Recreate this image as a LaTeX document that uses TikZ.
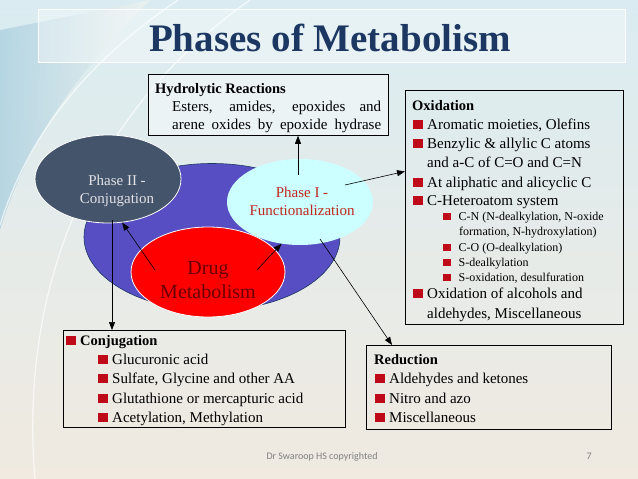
\documentclass[tikz,border=0pt]{standalone}
\usepackage{fontspec}
\setmainfont{Liberation Serif}
\newfontfamily\footfont{Carlito}
\usetikzlibrary{arrows.meta,shapes.geometric}

\definecolor{titleblue}{RGB}{28,56,98}
\definecolor{bulletred}{RGB}{190,10,25}
\definecolor{coreblue}{RGB}{88,78,196}
\definecolor{phasetwo}{RGB}{68,84,106}
\definecolor{phaseone}{RGB}{204,255,255}
\definecolor{phaseonetext}{RGB}{192,40,30}
\definecolor{drugred}{RGB}{255,0,0}
\definecolor{drugtext}{RGB}{105,0,0}
\definecolor{bgtop}{RGB}{218,236,242}
\definecolor{bgmid}{RGB}{242,244,240}
\definecolor{bgbot}{RGB}{240,234,224}

\newcommand{\bul}{\textcolor{bulletred}{\rule{9.5pt}{9.5pt}}\hspace{4.5pt}}
\newcommand{\sbul}{\textcolor{bulletred}{\rule{7.5pt}{7.5pt}}\hspace{8pt}}

\begin{document}
\begin{tikzpicture}[x=1pt,y=-1pt,>={Triangle[length=8pt,width=6pt]},
    box/.style={draw=black,line width=0.8pt,inner sep=0,anchor=north west},
    blob/.style={ellipse,inner sep=0},
    txt/.style={anchor=base west,inner sep=0,font=\fontsize{15}{18}\selectfont},
    head/.style={anchor=base west,inner sep=0,font=\fontsize{14.5}{18}\selectfont\bfseries},
    small/.style={anchor=base west,inner sep=0,font=\fontsize{12}{14}\selectfont},
    arr/.style={->,line width=0.6pt}]
  \useasboundingbox (0,0) rectangle (638,479);
  % background
  \shade[top color=bgtop,middle color=bgmid,bottom color=bgbot] (0,0) rectangle (638,479);
  \shade[left color={rgb,255:red,165;green,205;blue,222},right color=bgmid,opacity=0.7]
    (0,30) -- (150,0) .. controls (90,60) and (30,130) .. (0,230) -- cycle;
  \draw[white,opacity=0.7,line width=1.2pt] (178,0) .. controls (90,60) and (30,130) .. (0,225);
  \draw[white,opacity=0.7,line width=1.2pt] (250,0) .. controls (80,120) and (20,300) .. (35,479);
  % title band
  \fill[white,opacity=0.35] (38,9) rectangle (625,62);
  \draw[white,line width=0.8pt] (38,9) rectangle (625,62);
  \node[font=\fontsize{39}{42}\selectfont\bfseries,text=titleblue,anchor=base] (title) at (330,51) {Phases of Metabolism};

  % ellipses
  \node[blob,fill=coreblue,draw=titleblue,line width=0.6pt,minimum width=256,minimum height=147] (core) at (212,237) {};
  \node[blob,fill=phasetwo,draw=white,line width=0.8pt,minimum width=146,minimum height=88] (ph2) at (108,179) {};
  \node[blob,fill=phaseone,minimum width=146,minimum height=86] (ph1) at (300,202) {};
  \node[blob,fill=drugred,draw=white,line width=0.8pt,minimum width=154,minimum height=90] (drug) at (208,272) {};
  \node[align=center,font=\fontsize{15}{18}\selectfont,text={rgb,255:red,225;green,225;blue,230}] (ph2txt) at (117,191) {Phase II -\\Conjugation};
  \node[align=center,font=\fontsize{15}{18}\selectfont,text=phaseonetext] (ph1txt) at (302,201) {Phase I -\\Functionalization};
  \node[align=center,font=\fontsize{20}{24}\selectfont,text=drugtext] (drugtxt) at (208,280) {Drug\\Metabolism};

  % boxes
  \node[box,fill=white,fill opacity=0.4,minimum width=240,minimum height=61] (hydbox) at (148,74) {};
  \node[box,minimum width=218,minimum height=234] (oxbox) at (405,90) {};
  \node[box,minimum width=282,minimum height=97] (conjbox) at (63,330) {};
  \node[box,minimum width=245,minimum height=84] (redbox) at (366,345) {};

  % hydrolytic
  \node[head] (hy0) at (155,93) {Hydrolytic Reactions};
  \node[txt] (hy1) at (172,111) {\makebox[209pt][s]{Esters, amides, epoxides and}};
  \node[txt] (hy2) at (172,129) {\makebox[209pt][s]{arene oxides by epoxide hydrase}};

  % oxidation
  \node[head] (ox0) at (412,110) {Oxidation};
  \node[txt] (ox1) at (413,129) {\bul Aromatic moieties, Olefins};
  \node[txt] (ox2) at (413,148) {\bul Benzylic \& allylic C atoms};
  \node[txt] (ox3) at (427,167) {and a-C of C=O and C=N};
  \node[txt] (ox4) at (413,187) {\bul At aliphatic and alicyclic C};
  \node[txt] (ox5) at (413,205) {\bul C-Heteroatom system};
  \node[small] (ox6) at (443,220) {\sbul C-N (N-dealkylation, N-oxide};
  \node[small] (ox7) at (459,235) {formation, N-hydroxylation)};
  \node[small] (ox8) at (443,251) {\sbul C-O (O-dealkylation)};
  \node[small] (ox9) at (443,266) {\sbul S-dealkylation};
  \node[small] (ox10) at (443,281) {\sbul S-oxidation, desulfuration};
  \node[txt] (ox11) at (413,298) {\bul Oxidation of alcohols and};
  \node[txt] (ox12) at (427,318) {aldehydes, Miscellaneous};

  % conjugation
  \node[head] (cj0) at (66,345) {\bul Conjugation};
  \node[txt] (cj1) at (98,364) {\bul Glucuronic acid};
  \node[txt] (cj2) at (98,383) {\bul Sulfate, Glycine and other AA};
  \node[txt] (cj3) at (98,403) {\bul Glutathione or mercapturic acid};
  \node[txt] (cj4) at (98,422) {\bul Acetylation, Methylation};

  % reduction
  \node[head] (rd0) at (374,364) {Reduction};
  \node[txt] (rd1) at (375,383) {\bul Aldehydes and ketones};
  \node[txt] (rd2) at (375,403) {\bul Nitro and azo};
  \node[txt] (rd3) at (375,422) {\bul Miscellaneous};

  % arrows
  \draw[arr] ([shift={(-53,-2)}]drug.center) -- (ph2.-72);
  \draw[arr] ([shift={(49,-2)}]drug.center) -- (ph1.-114);
  \draw[arr] ([shift={(-2,-27)}]ph1.center) coordinate (up) -- (up |- hydbox.south);
  \draw[arr] ([shift={(45,-17)}]ph1.center) -- ([shift={(0,-36)}]oxbox.west);
  \draw[arr] ([shift={(20,37)}]ph1.center) -- ([shift={(26,0)}]redbox.north west);
  \draw[arr] ([shift={(4,41)}]ph2.center) coordinate (down) -- (down |- conjbox.north);

  % footer
  \node[font=\footfont\fontsize{10}{12}\selectfont,text=gray,anchor=base west] (foot) at (263,459) {Dr Swaroop HS copyrighted};
  \node[font=\footfont\fontsize{10}{12}\selectfont,text=gray,anchor=base west] (pagenum) at (583,459) {7};
\end{tikzpicture}
\end{document}
